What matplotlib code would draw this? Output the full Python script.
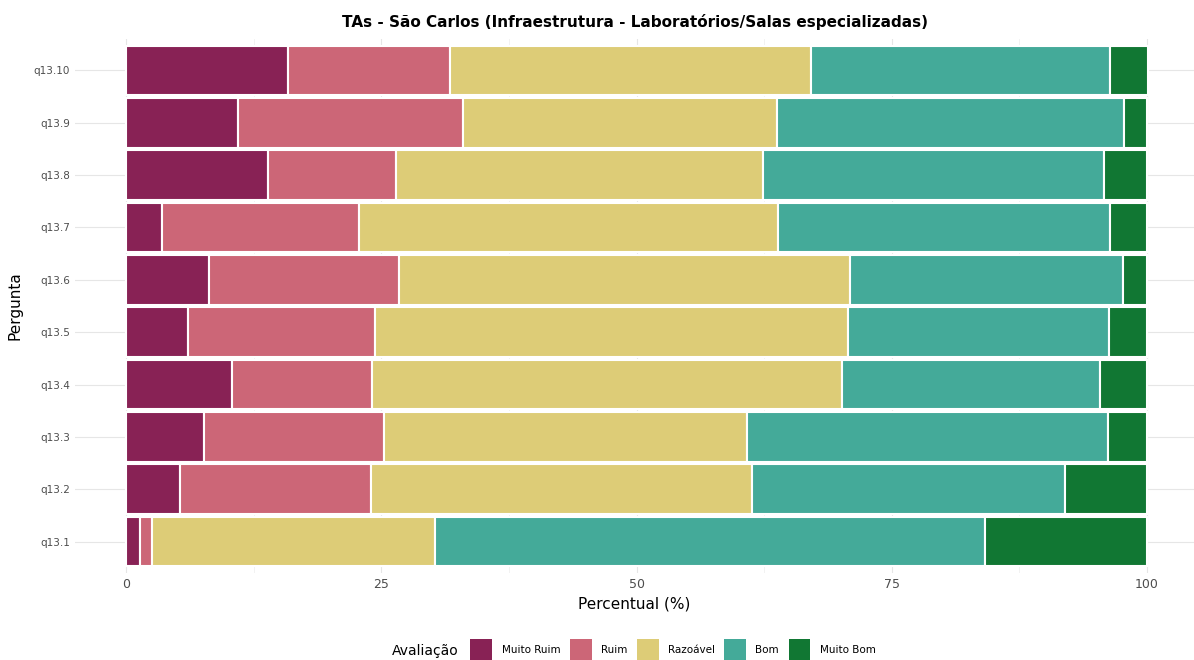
import numpy as np
import matplotlib.pyplot as plt
from matplotlib.patches import Patch

# data (percent per rating)
perguntas = ['q13.1', 'q13.2', 'q13.3', 'q13.4', 'q13.5',
             'q13.6', 'q13.7', 'q13.8', 'q13.9', 'q13.10']
categorias = ['Muito Ruim', 'Ruim', 'Razoável', 'Bom', 'Muito Bom']
muito_ruim = [1.4, 5.3, 7.6, 10.4, 6.1, 8.1, 3.5, 13.9, 11.0, 15.9]
ruim = [1.1, 18.7, 17.7, 13.7, 18.3, 18.6, 19.3, 12.5, 22.0, 15.8]
razoavel = [27.8, 37.3, 35.5, 46.0, 46.3, 44.2, 41.1, 36.0, 30.8, 35.4]
bom = [53.8, 30.7, 35.4, 25.3, 25.6, 26.7, 32.5, 33.4, 33.9, 29.3]
muito_bom = [15.9, 8.0, 3.8, 4.6, 3.7, 2.4, 3.6, 4.2, 2.3, 3.7]
cores = ['#882255', '#CC6677', '#DDCC77', '#44AA99', '#117733']

fig = plt.figure(figsize=(11.94, 6.6), dpi=100)
ax = fig.add_axes([75/1194, 1 - 573/660, 1 - 75/1194, 534/660])

series = [muito_ruim, ruim, razoavel, bom, muito_bom]
y = np.arange(1, len(perguntas) + 1)
left = np.zeros(len(perguntas))
for vals, cor in zip(series, cores):
    ax.barh(y, vals, left=left, height=0.95, color=cor,
            edgecolor='white', linewidth=1.5, zorder=3)
    left = left + np.array(vals)

ax.set_xlim(-5, 104.6)
ax.set_ylim(0.4, 10.6)
ax.set_yticks(y)
ax.set_yticklabels(perguntas, fontsize=7.5, color='#4d4d4d')
ax.set_xticks([0, 25, 50, 75, 100])
ax.set_xticklabels(['0', '25', '50', '75', '100'], fontsize=9, color='#4d4d4d')
ax.set_xticks([12.5, 37.5, 62.5, 87.5], minor=True)
ax.tick_params(length=0, which='both')
ax.grid(True, which='major', color='#e6e6e6', linewidth=0.8, zorder=0)
ax.grid(True, which='minor', axis='x', color='#f0f0f0', linewidth=0.6, zorder=0)
for s in ax.spines.values():
    s.set_visible(False)

ax.set_xlabel('Percentual (%)', fontsize=11, labelpad=4)
ax.set_ylabel('Pergunta', fontsize=11, labelpad=8)
fig.text(0.532, 1 - 22/660, 'TAs - São Carlos (Infraestrutura - Laboratórios/Salas especializadas)',
         ha='center', va='center', fontsize=11, fontweight='bold')

handles = [Patch(facecolor=c, edgecolor='none') for c in cores]
fig.text(392/1194, 1 - 651/660, 'Avaliação', fontsize=10, va='center', ha='left')
fig.legend(handles, categorias, loc='center', bbox_to_anchor=(673/1194, 1 - 650/660),
           ncol=5, frameon=False, fontsize=7.5, handlelength=2.1, handleheight=2.9,
           columnspacing=0.9, handletextpad=0.9)

fig.savefig('out.png', dpi=100)
